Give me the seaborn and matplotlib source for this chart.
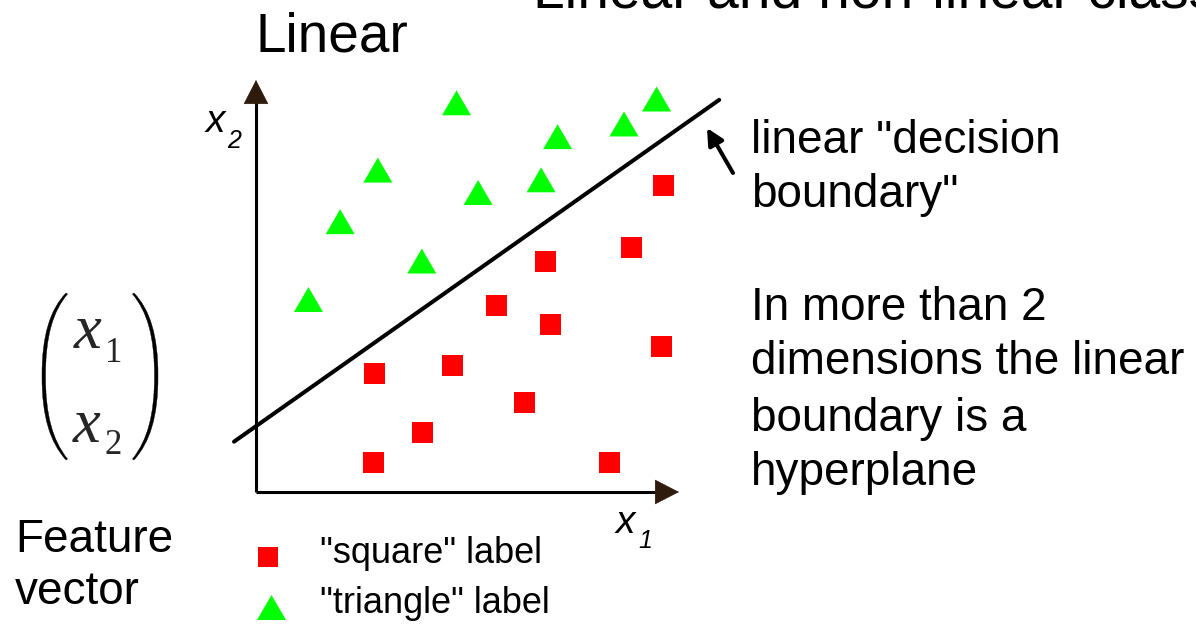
import numpy as np
import pandas as pd
import matplotlib
matplotlib.use("Agg")
import matplotlib.pyplot as plt
import seaborn as sns
from matplotlib.lines import Line2D
from matplotlib.path import Path
from matplotlib.patches import PathPatch

# ---------------- data (feature-space units) ----------------
tri_x1 = [4.74, 9.47, 8.70, 7.13, 2.88, 6.74, 5.25, 1.99, 3.92, 1.24]
tri_x2 = [9.20, 9.29, 8.70, 8.40, 7.61, 7.38, 7.08, 6.39, 5.46, 4.55]
sq_x1 = [9.63, 8.87, 6.85, 5.69, 6.97, 9.58, 2.81, 4.65, 6.34, 3.93, 2.78, 8.36]
sq_x2 = [7.25, 5.78, 5.46, 4.40, 3.96, 3.43, 2.81, 2.98, 2.11, 1.40, 0.70, 0.69]
boundary_x1 = [-0.52, 10.95]
boundary_x2 = [1.19, 9.27]
class_names = ["square", "triangle"]
legend_labels = ['"square" label', '"triangle" label']
axis_len_x1 = 10.0
axis_len_x2 = 9.74

# ---------------- layout ----------------
W, H = 1196, 627
S = 42.3          # pixels per unit
OX, OY = 256, 492 # origin in pixels

sns.set_theme(style="white")
plt.rcParams["font.family"] = ["Liberation Sans", "DejaVu Sans"]

fig = plt.figure(figsize=(W / 100, H / 100), dpi=100)
fig.patch.set_facecolor("white")
ax = fig.add_axes([0, 0, 1, 1])

def fx(px):
    return px / W

def fy(py):
    return 1 - py / H

RED = "#ff0000"
GREEN = "#00ff00"
BROWN = "#2e1b0c"
tri_marker = [(-1, -0.86), (1, -0.86), (0, 0.86)]

df = pd.DataFrame({
    "x1": sq_x1 + tri_x1,
    "x2": sq_x2 + tri_x2,
    "label": [class_names[0]] * len(sq_x1) + [class_names[1]] * len(tri_x1),
})

# axes lines with arrow heads
ax.plot([0, axis_len_x1 - 0.3], [0, 0], color="black", lw=2.2, solid_capstyle="butt", zorder=2)
ax.plot([0, 0], [0, axis_len_x2 - 0.3], color="black", lw=2.2, solid_capstyle="butt", zorder=2)
head = "-|>,head_length=1.65,head_width=0.85"
ax.annotate("", xy=(axis_len_x1, 0), xytext=(axis_len_x1 - 0.7, 0),
            arrowprops=dict(arrowstyle=head, fc=BROWN, ec=BROWN, lw=0.5,
                            mutation_scale=10, shrinkA=0, shrinkB=0), zorder=2)
ax.annotate("", xy=(0, axis_len_x2), xytext=(0, axis_len_x2 - 0.7),
            arrowprops=dict(arrowstyle=head, fc=BROWN, ec=BROWN, lw=0.5,
                            mutation_scale=10, shrinkA=0, shrinkB=0), zorder=2)

# decision boundary
sns.lineplot(x=boundary_x1, y=boundary_x2, color="black", lw=2.9, ax=ax, zorder=3)

# points
sns.scatterplot(data=df, x="x1", y="x2", hue="label", style="label", size="label",
                palette={class_names[0]: RED, class_names[1]: GREEN},
                markers={class_names[0]: "s", class_names[1]: tri_marker},
                sizes={class_names[0]: 228, class_names[1]: 436},
                linewidth=0, legend=False, ax=ax, zorder=4)
ax.set_xlim(-OX / S, (W - OX) / S)
ax.set_ylim(-(H - OY) / S, OY / S)
ax.axis("off")

# arrow pointing to boundary
ax.annotate("", xy=((707 - OX) / S, (OY - 128) / S), xytext=((733 - OX) / S, (OY - 173) / S),
            arrowprops=dict(arrowstyle="-|>,head_length=1.0,head_width=0.5", fc="black",
                            ec="black", lw=2.9, mutation_scale=10, shrinkA=0, shrinkB=0))

# ---------------- texts ----------------
fig.text(fx(533), fy(8), "Linear and non-linear classification", fontsize=41,
         va="baseline", ha="left", color="black")
fig.text(fx(255), fy(52), "Linear", fontsize=39.5, va="baseline", ha="left", color="black")

# axis labels
fig.text(fx(206), fy(132), "x", fontsize=28, style="italic", va="baseline", color="black")
fig.text(fx(227), fy(148), "2", fontsize=18, style="italic", va="baseline", color="black")
fig.text(fx(616), fy(533), "x", fontsize=28, style="italic", va="baseline", color="black")
fig.text(fx(638), fy(548), "1", fontsize=18, style="italic", va="baseline", color="black")

# right-hand notes
right_lines = [('linear "decision', 153), ('boundary"', 207), ("In more than 2", 320),
               ("dimensions the linear", 374), ("boundary is a", 431), ("hyperplane", 485)]
for txt, by in right_lines:
    fig.text(fx(751), fy(by), txt, fontsize=33, va="baseline", ha="left", color="black")

# feature vector
for txt, by in [("Feature", 552), ("vector", 604)]:
    fig.text(fx(15), fy(by), txt, fontsize=33, va="baseline", ha="left", color="black")
serif = ["Liberation Serif", "DejaVu Serif"]
fig.text(fx(74), fy(348), "x", fontsize=45, style="italic", family=serif, va="baseline")
fig.text(fx(105), fy(362), "1", fontsize=25, family=serif, va="baseline")
fig.text(fx(73), fy(442), "x", fontsize=45, style="italic", family=serif, va="baseline")
fig.text(fx(104), fy(454), "2", fontsize=25, family=serif, va="baseline")

def paren(mirror_at=None):
    pts = [(66, 293), (50, 310), (42, 335), (42, 376),
           (42, 417), (50, 442), (66, 460),
           (67.5, 459),
           (52.5, 440), (45.5, 415), (45.5, 376),
           (45.5, 337), (52.5, 312), (67.5, 294),
           (66, 293)]
    codes = [Path.MOVETO, Path.CURVE4, Path.CURVE4, Path.CURVE4,
             Path.CURVE4, Path.CURVE4, Path.CURVE4,
             Path.LINETO,
             Path.CURVE4, Path.CURVE4, Path.CURVE4,
             Path.CURVE4, Path.CURVE4, Path.CURVE4,
             Path.CLOSEPOLY]
    if mirror_at is not None:
        pts = [(2 * mirror_at - x, y) for x, y in pts]
    verts = [(fx(x), fy(y)) for x, y in pts]
    patch = PathPatch(Path(verts, codes), fc="black", ec="black", lw=0.3,
                      transform=fig.transFigure)
    fig.add_artist(patch)

paren()
paren(mirror_at=100)

# legend
fig.add_artist(Line2D([fx(268)], [fy(557)], marker="s", markersize=15.1, color=RED,
                      mew=0, linestyle="", transform=fig.transFigure))
fig.add_artist(Line2D([fx(271)], [fy(607)], marker=tri_marker, markersize=20.9, color=GREEN,
                      mew=0, linestyle="", transform=fig.transFigure))
fig.text(fx(320), fy(563), legend_labels[0], fontsize=26, va="baseline", color="black")
fig.text(fx(320), fy(613), legend_labels[1], fontsize=26, va="baseline", color="black")

fig.savefig("out.png", dpi=100, facecolor="white")
